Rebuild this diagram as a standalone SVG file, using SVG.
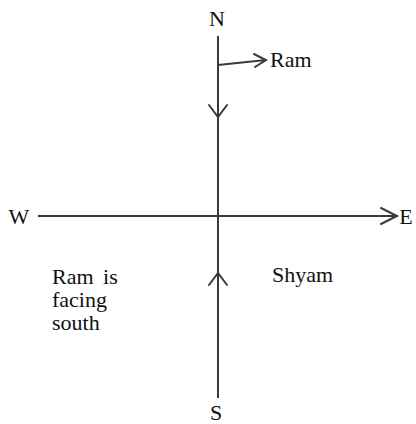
<svg xmlns="http://www.w3.org/2000/svg" width="416" height="424" viewBox="0 0 416 424">
<style>
.ln{stroke:#3a3a3a;stroke-width:2;fill:none}
.ah{stroke:#3a3a3a;stroke-width:2;fill:none;stroke-linecap:round;stroke-linejoin:miter}
text{font-family:"Liberation Serif","Times New Roman",serif;font-size:22px;fill:#111}
</style>
<rect width="416" height="424" fill="#fff"/>
<g id="connectors">
<line class="ln" x1="218" y1="36" x2="218" y2="398"/>
<line class="ln" x1="38" y1="216" x2="397" y2="216"/>
<polyline class="ah" points="209,105 218,117 227,105"/>
<polyline class="ah" points="209,285 218,273 227,285"/>
<polyline class="ah" points="381,208 397,216 381,224"/>
<line class="ln" x1="218" y1="65" x2="266" y2="60"/>
<polyline class="ah" points="254,54 266,60 255,67"/>
</g>
<g id="N"><text x="217" y="26" text-anchor="middle">N</text></g>
<g id="S"><text x="216" y="420" text-anchor="middle">S</text></g>
<g id="W"><text x="19" y="224" text-anchor="middle">W</text></g>
<g id="E"><text x="406" y="224" text-anchor="middle">E</text></g>
<g id="ram"><text x="270" y="67">Ram</text></g>
<g id="ramnote"><text x="52" y="284" word-spacing="4">Ram is</text><text x="52" y="307">facing</text><text x="52" y="330">south</text></g>
<g id="shyam"><text x="272" y="282">Shyam</text></g>
</svg>
